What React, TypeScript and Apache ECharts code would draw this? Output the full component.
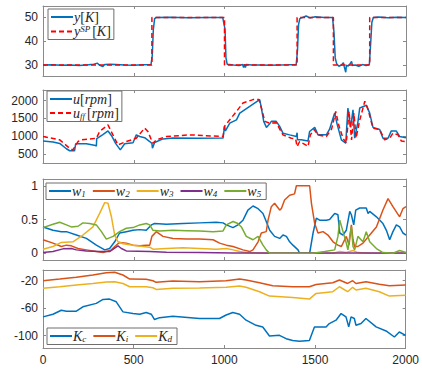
import React, { useEffect, useRef } from "react";
import * as echarts from "echarts";

// ---------- data ----------
const xTicks = [0, 500, 1000, 1500, 2000];

const ySP: [number, number][] = [[0,30],[600,30],[600,50],[1000,50],[1000,30],[1400,30],[1400,50],[1600,50],[1600,30],[1800,30],[1800,50],[2000,50]];
const yMeas: [number, number][] = [[0,30],[50,30.1],[100,29.9],[150,30],[200,29.8],[250,30.1],[280,30.3],[300,30.8],[310,30],[330,29.4],[340,30.2],[370,30.3],[400,30.2],[450,30],[500,29.9],[550,30.1],[595,30.2],[602,34],[608,45],[615,49.5],[625,50],[700,50.1],[800,49.9],[900,50],[990,50],[1003,45],[1008,33],[1015,30.3],[1050,30],[1080,29.8],[1100,30.2],[1105,29],[1110,30.3],[1115,29],[1120,30.2],[1150,30],[1200,30],[1250,29.9],[1300,30],[1350,30.1],[1395,30.2],[1402,36],[1408,47],[1415,49.5],[1430,50],[1450,50.6],[1470,49.8],[1500,50.3],[1550,50],[1595,50],[1603,44],[1610,33],[1618,30.5],[1630,29.5],[1645,30],[1655,31],[1660,29.3],[1668,27],[1672,30],[1680,29.5],[1690,30.3],[1700,31.5],[1705,29.8],[1720,30],[1740,29.5],[1760,30.2],[1780,29.8],[1798,30.2],[1806,40],[1812,48],[1820,50],[1850,50.2],[1900,49.9],[1950,50.1],[2000,50]];

const uRpm: [number, number][] = [[0,868],[55,840],[92,800],[129,650],[147,594],[174,594],[180,790],[239,790],[290,740],[294,720],[296,934],[330,1050],[358,1150],[380,1000],[400,800],[426,620],[450,790],[496,820],[514,1040],[533,994],[560,960],[588,853],[600,800],[603,664],[615,825],[661,927],[716,950],[850,945],[992,950],[995,960],[1000,1277],[1005,1150],[1029,1370],[1066,1463],[1084,1652],[1139,1840],[1194,2030],[1203,1800],[1216,1420],[1231,1250],[1249,1350],[1258,1420],[1285,1420],[1304,1277],[1322,1088],[1359,1040],[1396,994],[1400,1100],[1402,900],[1423,900],[1460,870],[1469,1135],[1497,1250],[1515,1040],[1561,1040],[1579,1200],[1607,1652],[1620,1350],[1644,900],[1668,805],[1680,1793],[1695,1250],[1708,1745],[1717,946],[1735,1400],[1745,1793],[1782,1870],[1800,1650],[1818,1250],[1855,1190],[1873,946],[1901,946],[1919,1152],[1946,1152],[1965,994],[2000,960]];
const uFF: [number, number][] = [[0,994],[92,900],[147,664],[165,616],[193,853],[211,900],[294,946],[312,1135],[358,1320],[376,1135],[413,757],[459,853],[514,946],[560,1230],[578,1135],[597,900],[606,805],[624,900],[680,994],[808,1040],[992,994],[1000,1280],[1029,1463],[1066,1700],[1102,1935],[1157,2030],[1190,2030],[1203,1800],[1222,1420],[1249,1370],[1285,1380],[1322,1040],[1368,946],[1392,926],[1400,711],[1414,853],[1447,757],[1460,711],[1473,1040],[1494,1190],[1515,1040],[1561,994],[1590,1200],[1613,1700],[1630,1300],[1653,946],[1671,805],[1686,1700],[1700,900],[1713,1650],[1725,950],[1745,1450],[1773,1983],[1791,1750],[1818,1230],[1855,1190],[1882,900],[1910,946],[1928,1088],[1956,1040],[1974,870],[2000,850]];

const w1: [number, number][] = [[0,0.39],[55,0.34],[101,0.32],[129,0.32],[184,0.27],[239,0.22],[294,0.12],[340,0.05],[367,0.07],[395,0.17],[422,0.3],[459,0.32],[496,0.34],[533,0.35],[569,0.34],[597,0.42],[615,0.44],[680,0.43],[771,0.44],[863,0.45],[955,0.46],[992,0.45],[1010,0.42],[1047,0.38],[1074,0.42],[1102,0.49],[1129,0.64],[1157,0.7],[1185,0.66],[1212,0.59],[1230,0.47],[1249,0.34],[1276,0.25],[1304,0.22],[1322,0.27],[1341,0.25],[1359,0.17],[1377,0.12],[1405,0.05],[1414,0],[1469,0],[1488,0.3],[1506,0.52],[1524,0.49],[1561,0.49],[1579,0.5],[1607,0.59],[1625,0.57],[1635,0.3],[1653,0.27],[1671,0.34],[1690,0.62],[1699,0.57],[1712,0.42],[1723,0.64],[1745,0.67],[1781,0.67],[1791,0.59],[1800,0.62],[1837,0.54],[1873,0.44],[1892,0.34],[1910,0.2],[1928,0.32],[1947,0.42],[1965,0.39],[1983,0.3],[2000,0.27]];
const w2: [number, number][] = [[0,0.2],[55,0.15],[101,0.1],[129,0.12],[156,0.11],[193,0.07],[239,0.05],[294,0.025],[331,0.01],[377,0.05],[395,0.1],[422,0.16],[459,0.15],[496,0.12],[533,0.11],[569,0.12],[588,0.12],[600,0.25],[624,0.32],[661,0.25],[716,0.22],[790,0.21],[863,0.21],[937,0.2],[973,0.15],[1010,0.12],[1047,0.1],[1102,0.05],[1139,0.025],[1157,0.05],[1185,0.17],[1203,0.3],[1230,0.32],[1240,0.49],[1258,0.69],[1276,0.74],[1304,0.64],[1313,0.66],[1331,0.79],[1359,0.86],[1386,0.88],[1396,1],[1469,1],[1479,0.74],[1497,0.44],[1515,0.3],[1543,0.32],[1570,0.27],[1598,0.17],[1625,0.12],[1644,0.1],[1671,0.25],[1686,0.12],[1699,0.42],[1708,0.2],[1717,0.1],[1735,0.1],[1763,0.15],[1800,0.27],[1837,0.39],[1873,0.64],[1901,0.81],[1928,0.69],[1965,0.54],[1983,0.66],[2000,0.69]];
const w3: [number, number][] = [[0,0.06],[55,0.1],[101,0.16],[165,0.17],[220,0.27],[275,0.39],[312,0.59],[340,0.75],[358,0.74],[377,0.54],[395,0.27],[413,0.17],[441,0.14],[496,0.12],[551,0.1],[588,0.09],[606,0.06],[680,0.07],[771,0.08],[863,0.07],[955,0.06],[1010,0.07],[1047,0.05],[1084,0.025],[1120,0.01],[1230,0],[1598,0],[1635,0.025],[1671,0.01],[1708,0.04],[1735,0.01],[1800,0],[2000,0]];
const w4: [number, number][] = [[0,0.01],[55,0.025],[110,0.065],[156,0.07],[184,0.05],[239,0.035],[312,0.025],[367,0.025],[413,0.11],[432,0.07],[459,0.035],[588,0.025],[680,0.015],[863,0.01],[1047,0.005],[1230,0.003],[2000,0.003]];
const w5: [number, number][] = [[0,0.38],[55,0.43],[92,0.46],[129,0.42],[156,0.39],[193,0.4],[220,0.45],[257,0.44],[294,0.42],[322,0.32],[349,0.21],[386,0.25],[422,0.32],[459,0.37],[496,0.38],[533,0.42],[569,0.44],[588,0.42],[606,0.34],[643,0.33],[716,0.34],[790,0.335],[863,0.33],[937,0.32],[992,0.33],[1010,0.42],[1047,0.47],[1074,0.44],[1093,0.39],[1120,0.25],[1157,0.2],[1185,0.25],[1212,0.12],[1230,0.05],[1249,0],[1377,0],[1488,0],[1552,0.025],[1607,0.05],[1625,0.25],[1635,0.49],[1653,0.32],[1671,0.15],[1680,0.05],[1690,0.25],[1699,0.39],[1708,0.1],[1717,0.05],[1735,0.25],[1763,0.17],[1781,0.32],[1800,0.17],[1837,0.07],[1873,0.01],[1928,0],[1965,0.04],[2000,0.01]];

const Kc: [number, number][] = [[0,-72.7],[55,-68.8],[101,-63],[129,-64.4],[184,-64.4],[220,-58],[294,-53],[331,-47.3],[367,-46.8],[404,-50.7],[441,-65.4],[496,-67.8],[533,-68.8],[569,-66.3],[597,-68.8],[615,-76.6],[643,-73.8],[716,-71.7],[863,-75],[973,-75],[1010,-70],[1047,-66.3],[1084,-68.8],[1120,-77.5],[1175,-85],[1212,-87.5],[1249,-100.5],[1304,-99.5],[1341,-104.4],[1377,-107],[1414,-108.3],[1469,-107],[1497,-87.3],[1561,-87.3],[1579,-82.4],[1616,-77.5],[1644,-67.8],[1671,-72.7],[1686,-87.3],[1699,-72.7],[1717,-75],[1726,-84.8],[1754,-82.4],[1781,-75],[1837,-87.3],[1892,-93.2],[1938,-102],[1965,-94.7],[2000,-99.5]];
const Ki: [number, number][] = [[0,-20],[92,-17.6],[184,-15],[275,-11.7],[349,-8.3],[395,-7.8],[441,-11.7],[478,-17.6],[569,-18],[606,-20],[624,-22.4],[716,-20.5],[863,-21.5],[1010,-20],[1084,-17.6],[1120,-19],[1194,-23],[1267,-27.3],[1377,-28.8],[1469,-28.8],[1506,-25.4],[1598,-23],[1635,-19],[1680,-24],[1708,-20],[1726,-24],[1781,-21.5],[1855,-25],[1910,-27.3],[2000,-26.3]];
const Kd: [number, number][] = [[0,-31],[92,-28.8],[184,-26.3],[275,-24],[349,-22],[395,-21.5],[441,-24],[478,-28.8],[569,-28.8],[606,-30.2],[624,-32.7],[716,-31],[863,-30.5],[1010,-29.6],[1084,-27.8],[1120,-29.6],[1194,-36],[1249,-42.4],[1377,-44.4],[1469,-46.8],[1506,-38.5],[1598,-36],[1635,-28.8],[1680,-36],[1708,-29.6],[1726,-33.5],[1781,-31],[1855,-36],[1910,-42.4],[2000,-41]];

const yTicks1 = [30, 40, 50];
const yTicks2 = [500, 1000, 1500, 2000];
const yTicks3 = [0, 0.5, 1];
const yTicks4 = [-100, -60, -20];

// ---------- styling ----------
const C1 = "#0072BD", C2 = "#D95319", C3 = "#EDB120", C4 = "#7E2F8E", C5 = "#77AC30", RED = "#FF0000";
const AX = "#8a8a8a";
const LBL = "#262626";

const grids = [
  { top: 6, height: 70 },
  { top: 90, height: 73 },
  { top: 179, height: 81 },
  { top: 270, height: 78 },
];
const yRanges: [number, number][] = [[25.4, 54.8], [250, 2300], [-0.1, 1.1], [-118, -4.4]];
const yTicks = [yTicks1, yTicks2, yTicks3, yTicks4];

const legendNames: Record<string, string> = {
  y: "{it|y}{rm|[}{it|K}{rm|]}",
  ySP: "{it|y}{sup|SP}{rm|[}{it|K}{rm|]}",
  u: "{it|u}{rm|[}{it|rpm}{rm|]}",
  uff: "{it|u}{sub|ff}{rm|[}{it|rpm}{rm|]}",
  w1: "{it|w}{sub|1}", w2: "{it|w}{sub|2}", w3: "{it|w}{sub|3}", w4: "{it|w}{sub|4}", w5: "{it|w}{sub|5}",
  Kc: "{it|K}{sub|c}", Ki: "{it|K}{sub|i}", Kd: "{it|K}{sub|d}",
};
const rich = {
  it: { fontFamily: "Liberation Serif", fontStyle: "italic", fontSize: 14, color: LBL, lineHeight: 15 },
  rm: { fontFamily: "Liberation Serif", fontSize: 14, color: LBL, lineHeight: 15 },
  sub: { fontFamily: "Liberation Serif", fontStyle: "italic", fontSize: 9, color: LBL, verticalAlign: "bottom", lineHeight: 15, padding: [0, 2, 0, 0] },
  sup: { fontFamily: "Liberation Serif", fontStyle: "italic", fontSize: 9, color: LBL, verticalAlign: "top", lineHeight: 15, padding: [0, 2, 0, 0] },
};

function mkLegend(data: string[], left: number, top: number, orient: "vertical" | "horizontal", itemGap: number) {
  return {
    data, left, top, orient, itemGap,
    itemWidth: 22, itemHeight: 10,
    padding: [1, 3, 1, 2],
    backgroundColor: "#fff",
    borderColor: "#6e6e6e",
    borderWidth: 1,
    borderRadius: 0,
    selectedMode: false,
    itemStyle: { opacity: 0, borderWidth: 0 },
    formatter: (n: string) => legendNames[n] || n,
    textStyle: { rich, padding: [0, 0, 0, -4] },
  };
}

const numFmt = (v: number) => String(v);

export default function App() {
  const ref = useRef<HTMLDivElement>(null);
  useEffect(() => {
    if (!ref.current) return;
    const chart = echarts.init(ref.current, null, { renderer: "svg" });
    const gridOpt = grids.map((g) => ({ left: 43, width: 363, top: g.top, height: g.height, containLabel: false }));
    const xAxis: any[] = [];
    const yAxis: any[] = [];
    for (let i = 0; i < 4; i++) {
      xAxis.push({
        type: "value", gridIndex: i, min: xTicks[0], max: xTicks[xTicks.length - 1], interval: 500, position: "bottom",
        axisLine: { show: true, onZero: false, lineStyle: { color: AX, width: 1 } },
        axisTick: { show: true, inside: true, length: 3, lineStyle: { color: AX } },
        axisLabel: { show: i === 3, color: LBL, fontFamily: "Liberation Sans", fontSize: 12, margin: 6, showMaxLabel: true, showMinLabel: true, formatter: numFmt },
        splitLine: { show: false },
      });
    }
    for (let i = 0; i < 4; i++) {
      xAxis.push({
        type: "value", gridIndex: i, min: xTicks[0], max: xTicks[xTicks.length - 1], interval: 500, position: "top",
        axisLine: { show: true, onZero: false, lineStyle: { color: AX, width: 1 } },
        axisTick: { show: true, inside: true, length: 3, lineStyle: { color: AX } },
        axisLabel: { show: false },
        splitLine: { show: false },
      });
    }
    for (let i = 0; i < 4; i++) {
      yAxis.push({
        type: "value", gridIndex: i, min: yRanges[i][0], max: yRanges[i][1], position: "left",
        axisLine: { show: true, onZero: false, lineStyle: { color: AX, width: 1 } },
        axisTick: { show: true, inside: true, length: 3, lineStyle: { color: AX }, customValues: yTicks[i] },
        axisLabel: { show: true, color: LBL, fontFamily: "Liberation Sans", fontSize: 12, margin: 5, customValues: yTicks[i], formatter: numFmt },
        splitLine: { show: false },
      });
    }
    for (let i = 0; i < 4; i++) {
      yAxis.push({
        type: "value", gridIndex: i, min: yRanges[i][0], max: yRanges[i][1], position: "right",
        axisLine: { show: true, onZero: false, lineStyle: { color: AX, width: 1 } },
        axisTick: { show: true, inside: true, length: 3, lineStyle: { color: AX }, customValues: yTicks[i] },
        axisLabel: { show: false, customValues: yTicks[i] },
        splitLine: { show: false },
      });
    }
    const line = (name: string, data: [number, number][], idx: number, color: string, dashed = false) => ({
      name, type: "line", data, xAxisIndex: idx, yAxisIndex: idx,
      showSymbol: false, symbol: "none", smooth: false,
      lineStyle: { color, width: 1.5, type: dashed ? [5, 3] : "solid" },
      itemStyle: { color },
      emphasis: { disabled: true },
    });
    chart.setOption({
      animation: false,
      backgroundColor: "#fff",
      grid: gridOpt,
      xAxis, yAxis,
      legend: [
        mkLegend(["y", "ySP"], 48, 9, "vertical", 0),
        mkLegend(["u", "uff"], 47, 91, "vertical", 0),
        mkLegend(["w1", "w2", "w3", "w4", "w5"], 46, 183, "horizontal", 4),
        mkLegend(["Kc", "Ki", "Kd"], 47, 328, "horizontal", 4),
      ],
      series: [
        line("y", yMeas, 0, C1),
        line("ySP", ySP, 0, RED, true),
        line("u", uRpm, 1, C1),
        line("uff", uFF, 1, RED, true),
        line("w1", w1, 2, C1),
        line("w2", w2, 2, C2),
        line("w3", w3, 2, C3),
        line("w4", w4, 2, C4),
        line("w5", w5, 2, C5),
        line("Kc", Kc, 3, C1),
        line("Ki", Ki, 3, C2),
        line("Kd", Kd, 3, C3),
      ],
    });
    return () => chart.dispose();
  }, []);
  return <div ref={ref} style={{ position: "fixed", left: 0, top: 0, width: 422, height: 369, background: "#fff" }} />;
}
